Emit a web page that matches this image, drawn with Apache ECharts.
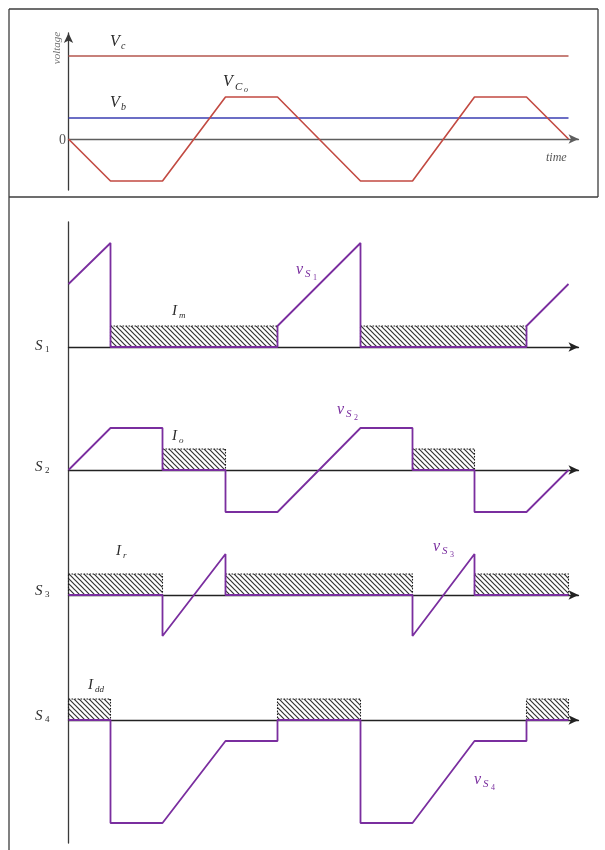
<!DOCTYPE html>
<html>
<head>
<meta charset="utf-8">
<script src="https://cdn.jsdelivr.net/npm/echarts@6/dist/echarts.min.js"></script>
<style>
  html, body { margin: 0; padding: 0; background: #ffffff; }
  #chart { width: 605px; height: 850px; }
</style>
</head>
<body>
<div id="chart"></div>
<script>
// ---- Top plot: rail voltages and capacitor voltage over two switching periods ----
const vcLevel = 83;          // V_c
const vbLevel = 21;          // V_b
const timeEnd = 500;
const vcoWave = [[0, 0], [42, -42], [94, -42], [157, 42], [209, 42], [292, -42], [344, -42], [406, 42], [458, 42], [500, 0]];

// ---- Switch voltages ----
const vS1 = [[0, 63], [42, 104], [42, 0], [209, 0], [209, 21], [292, 104], [292, 0], [458, 0], [458, 21], [500, 63]];
const vS2 = [[0, 0], [42, 42], [94, 42], [94, 0], [157, 0], [157, -42], [209, -42], [292, 42], [344, 42], [344, 0], [406, 0], [406, -42], [458, -42], [500, 0]];
const vS3 = [[0, 0], [94, 0], [94, -41], [157, 41], [157, 0], [344, 0], [344, -41], [406, 41], [406, 0], [500, 0]];
const vS4 = [[0, 0], [42, 0], [42, -103], [94, -103], [157, -21], [209, -21], [209, 0], [292, 0], [292, -103], [344, -103], [406, -21], [458, -21], [458, 0], [500, 0]];

// ---- Conduction intervals of each switch (hatched current blocks) ----
const currentLevel = 21;
const condS1 = [[42, 209], [292, 458]];
const condS2 = [[94, 157], [344, 406]];
const condS3 = [[0, 94], [157, 344], [406, 500]];
const condS4 = [[0, 42], [209, 292], [458, 500]];

const RED = '#c24a42';
const RED_RAIL = '#b5564e';
const BLUE = '#3a3eb2';
const PURPLE = '#7a2e9f';
const AXIS = '#222222';

// diagonal hatch pattern ("\\\\" direction)
function makeHatch() {
  const s = 5;
  const c = document.createElement('canvas');
  c.width = s; c.height = s;
  const g = c.getContext('2d');
  g.strokeStyle = '#333333';
  g.lineWidth = 1.2;
  g.lineCap = 'square';
  g.beginPath();
  g.moveTo(-2, -2); g.lineTo(s + 2, s + 2);
  g.moveTo(-2, s - 2); g.lineTo(2, s + 2);
  g.moveTo(s - 2, -2); g.lineTo(s + 2, 2);
  g.stroke();
  return c;
}
const hatch = { image: makeHatch(), repeat: 'repeat' };

const chart = echarts.init(document.getElementById('chart'), null, { renderer: 'canvas' });

const X0 = 68.5, XW = 510;
const grids = [
  { left: X0, top: 33, width: XW, height: 157 },   // top plot
  { left: X0, top: 235, width: XW, height: 120 },  // S1
  { left: X0, top: 420, width: XW, height: 100 },  // S2
  { left: X0, top: 545, width: XW, height: 100 },  // S3
  { left: X0, top: 690, width: XW, height: 140 },  // S4
  { left: X0, top: 222, width: 1, height: 621 }    // long vertical axis of lower plots
];
const yRanges = [[-51, 106], [-8, 112], [-50, 50], [-50, 50], [-110, 30], [0, 1]];

const xAxes = grids.map((g, i) => ({
  type: 'value', gridIndex: i, min: 0, max: i === 5 ? 1 : XW,
  show: i !== 5,
  axisLine: {
    show: true, onZero: true,
    symbol: ['none', 'arrow'], symbolSize: [7, 10],
    lineStyle: { color: i === 0 ? '#5e5e5e' : AXIS, width: 1.3 }
  },
  axisTick: { show: false }, axisLabel: { show: false }, splitLine: { show: false }
}));
const yAxes = grids.map((g, i) => ({
  type: 'value', gridIndex: i, min: yRanges[i][0], max: yRanges[i][1],
  show: i === 0 || i === 5,
  axisLine: {
    show: true, onZero: false,
    symbol: i === 0 ? ['none', 'arrow'] : ['none', 'none'], symbolSize: [7, 10],
    lineStyle: { color: '#3a3a3a', width: 1.3 }
  },
  axisTick: { show: false }, axisLabel: { show: false }, splitLine: { show: false }
}));

function lineSeries(data, idx, color, width) {
  return {
    type: 'line', xAxisIndex: idx, yAxisIndex: idx, data: data,
    showSymbol: false, symbol: 'none', clip: false, z: 4,
    lineStyle: { color: color, width: width }, animation: false
  };
}
function hatchSeries(intervals, idx) {
  return {
    type: 'custom', xAxisIndex: idx, yAxisIndex: idx, z: 2, animation: false,
    data: intervals.map(d => [d[0], d[1], currentLevel]),
    renderItem: function (params, api) {
      const p0 = api.coord([api.value(0), api.value(2)]);
      const p1 = api.coord([api.value(1), 0]);
      return {
        type: 'rect',
        shape: { x: p0[0], y: p0[1], width: p1[0] - p0[0], height: p1[1] - p0[1] },
        style: { fill: hatch, stroke: '#1e1e1e', lineWidth: 1.1, lineDash: [1.6, 1.4] }
      };
    }
  };
}

// text helper (serif, math-style)
const SERIF = '"Liberation Serif", "DejaVu Serif", serif';
function t(x, y, text, size, color, italic) {
  return {
    type: 'text', x: x, y: y, z: 50,
    style: {
      text: text, fill: color || '#2b2b2b', font: (italic === false ? '' : 'italic ') + size + 'px ' + SERIF,
      textVerticalAlign: 'middle', textAlign: 'left'
    }
  };
}
function hline(x1, y1, x2, y2) {
  return { type: 'line', z: 60, shape: { x1: x1, y1: y1, x2: x2, y2: y2 }, style: { stroke: '#3c3c3c', lineWidth: 1.3 } };
}

const labels = [
  // frame
  hline(9, 9, 598, 9), hline(9, 9, 9, 850), hline(598, 9, 598, 197), hline(9, 197, 598, 197),
  // top plot
  { type: 'text', x: 57, y: 48, rotation: Math.PI / 2, z: 50,
    style: { text: 'voltage', fill: '#707070', font: 'italic 11px ' + SERIF, textAlign: 'center', textVerticalAlign: 'middle' } },
  t(110, 42, 'V', 16), t(121, 46, 'c', 10),
  t(110, 103, 'V', 16), t(121, 107, 'b', 10),
  t(59, 140, '0', 14, '#555', false),
  t(223, 82, 'V', 16), t(235, 87, 'C', 11), t(244, 90, 'o', 8),
  t(546, 158, 'time', 12, '#555'),
  // lower plots
  t(35, 346, 'S', 15), t(45, 350, '1', 9, '#2b2b2b', false),
  t(35, 467, 'S', 15), t(45, 471, '2', 9, '#2b2b2b', false),
  t(35, 591, 'S', 15), t(45, 595, '3', 9, '#2b2b2b', false),
  t(35, 716, 'S', 15), t(45, 720, '4', 9, '#2b2b2b', false),
  t(172, 311, 'I', 15), t(179, 316, 'm', 9),
  t(296, 270, 'v', 16, PURPLE), t(305, 274, 'S', 11, PURPLE), t(313, 278, '1', 8, PURPLE, false),
  t(172, 436, 'I', 15), t(179, 441, 'o', 9),
  t(337, 410, 'v', 16, PURPLE), t(346, 414, 'S', 11, PURPLE), t(354, 418, '2', 8, PURPLE, false),
  t(116, 551, 'I', 15), t(123, 556, 'r', 9),
  t(433, 547, 'v', 16, PURPLE), t(442, 551, 'S', 11, PURPLE), t(450, 555, '3', 8, PURPLE, false),
  t(88, 685, 'I', 15), t(95, 690, 'dd', 9),
  t(474, 780, 'v', 16, PURPLE), t(483, 784, 'S', 11, PURPLE), t(491, 788, '4', 8, PURPLE, false)
];

const option = {
  backgroundColor: '#ffffff',
  animation: false,
  grid: grids.map(g => Object.assign({ containLabel: false, show: false }, g)),
  xAxis: xAxes,
  yAxis: yAxes,
  graphic: labels,
  series: [
    lineSeries([[0, vcLevel], [timeEnd, vcLevel]], 0, RED_RAIL, 1.6),
    lineSeries([[0, vbLevel], [timeEnd, vbLevel]], 0, BLUE, 1.6),
    lineSeries(vcoWave, 0, RED, 1.6),
    hatchSeries(condS1, 1), lineSeries(vS1, 1, PURPLE, 1.8),
    hatchSeries(condS2, 2), lineSeries(vS2, 2, PURPLE, 1.8),
    hatchSeries(condS3, 3), lineSeries(vS3, 3, PURPLE, 1.8),
    hatchSeries(condS4, 4), lineSeries(vS4, 4, PURPLE, 1.8)
  ]
};
chart.setOption(option);
</script>
</body>
</html>
